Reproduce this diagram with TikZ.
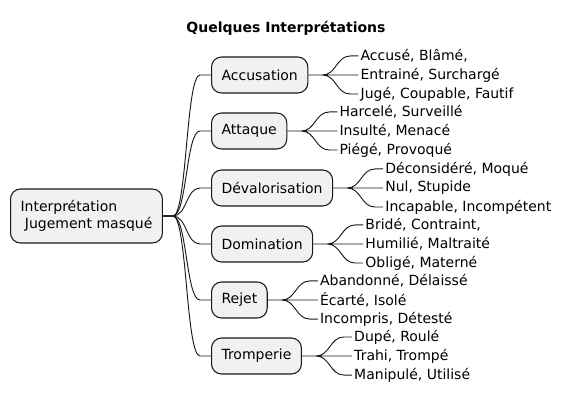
\documentclass[tikz,border=0pt]{standalone}
\usepackage{fontspec}
\setmainfont{DejaVu Sans}
\usetikzlibrary{positioning,calc}
\definecolor{mapfill}{HTML}{F1F1F1}
\definecolor{mapline}{HTML}{181818}
\tikzset{
  mapfont/.style={font=\fontsize{10.5}{12.75}\selectfont},
  rootbox/.style={rectangle, rounded corners=7.5pt, draw=mapline, fill=mapfill,
    line width=0.8pt, align=left, inner xsep=7.5pt, minimum height=40.5pt,
    anchor=west, mapfont},
  topicbox/.style={rectangle, rounded corners=7.5pt, draw=mapline, fill=mapfill,
    line width=0.8pt, inner xsep=7.5pt, minimum height=27pt, anchor=west, mapfont},
  leaf/.style={inner xsep=1.5pt, inner ysep=0pt, minimum height=13.875pt, mapfont},
  branch/.style={draw=mapline, line width=0.7pt,
    to path={-- ++(10,0) .. controls +(14,0) and +(-14,0) .. ($(\tikztotarget)+(-11,0)$) -- (\tikztotarget)}},
  twig/.style={draw=mapline, line width=0.7pt,
    to path={-- ++(14,0) .. controls +(14,0) and +(-14,0) .. ($(\tikztotarget)+(-8,0)$) -- (\tikztotarget)}}
}
\begin{document}
\begin{tikzpicture}[x=0.75pt, y=-0.75pt]
  \useasboundingbox (0,0) rectangle (571,395);

  % --- title ---
  \node[font=\fontsize{10.5}{12.75}\selectfont\bfseries] (title) at (286,28) {Quelques Interprétations};

  % --- root ---
  \node[rootbox] (root) at (10,216) {Interprétation\\\ Jugement masqué};

  % --- topics ---
  \node[topicbox] (acc) at (211,75) {Accusation};
  \node[topicbox] (att) at (211,131) {Attaque};
  \node[topicbox] (dev) at (211,188) {Dévalorisation};
  \node[topicbox] (dom) at (211,244) {Domination};
  \node[topicbox] (rej) at (211,300) {Rejet};
  \node[topicbox] (tro) at (211,356) {Tromperie};

  % --- leaves ---
  \node[leaf, right=37.5pt of acc] (acc2) {Entrainé, Surchargé};
  \node[leaf, above right=0pt and 0pt of acc2.north west] (acc1) {Accusé, Blâmé,};
  \node[leaf, below right=0pt and 0pt of acc2.south west] (acc3) {Jugé, Coupable, Fautif};

  \node[leaf, right=37.5pt of att] (att2) {Insulté, Menacé};
  \node[leaf, above right=0pt and 0pt of att2.north west] (att1) {Harcelé, Surveillé};
  \node[leaf, below right=0pt and 0pt of att2.south west] (att3) {Piégé, Provoqué};

  \node[leaf, right=37.5pt of dev] (dev2) {Nul, Stupide};
  \node[leaf, above right=0pt and 0pt of dev2.north west] (dev1) {Déconsidéré, Moqué};
  \node[leaf, below right=0pt and 0pt of dev2.south west] (dev3) {Incapable, Incompétent};

  \node[leaf, right=37.5pt of dom] (dom2) {Humilié, Maltraité};
  \node[leaf, above right=0pt and 0pt of dom2.north west] (dom1) {Bridé, Contraint,};
  \node[leaf, below right=0pt and 0pt of dom2.south west] (dom3) {Obligé, Materné};

  \node[leaf, right=37.5pt of rej] (rej2) {Écarté, Isolé};
  \node[leaf, above right=0pt and 0pt of rej2.north west] (rej1) {Abandonné, Délaissé};
  \node[leaf, below right=0pt and 0pt of rej2.south west] (rej3) {Incompris, Détesté};

  \node[leaf, right=37.5pt of tro] (tro2) {Trahi, Trompé};
  \node[leaf, above right=0pt and 0pt of tro2.north west] (tro1) {Dupé, Roulé};
  \node[leaf, below right=0pt and 0pt of tro2.south west] (tro3) {Manipulé, Utilisé};

  % ---------------- edges ----------------
  \draw[branch] (root.east) to (acc.west);
  \draw[branch] (root.east) to (att.west);
  \draw[branch] (root.east) to (dev.west);
  \draw[branch] (root.east) to (dom.west);
  \draw[branch] (root.east) to (rej.west);
  \draw[branch] (root.east) to (tro.west);

  \draw[twig] (acc.east) to (acc1.west) (acc.east) to (acc2.west) (acc.east) to (acc3.west);
  \draw[twig] (att.east) to (att1.west) (att.east) to (att2.west) (att.east) to (att3.west);
  \draw[twig] (dev.east) to (dev1.west) (dev.east) to (dev2.west) (dev.east) to (dev3.west);
  \draw[twig] (dom.east) to (dom1.west) (dom.east) to (dom2.west) (dom.east) to (dom3.west);
  \draw[twig] (rej.east) to (rej1.west) (rej.east) to (rej2.west) (rej.east) to (rej3.west);
  \draw[twig] (tro.east) to (tro1.west) (tro.east) to (tro2.west) (tro.east) to (tro3.west);

\end{tikzpicture}
\end{document}
